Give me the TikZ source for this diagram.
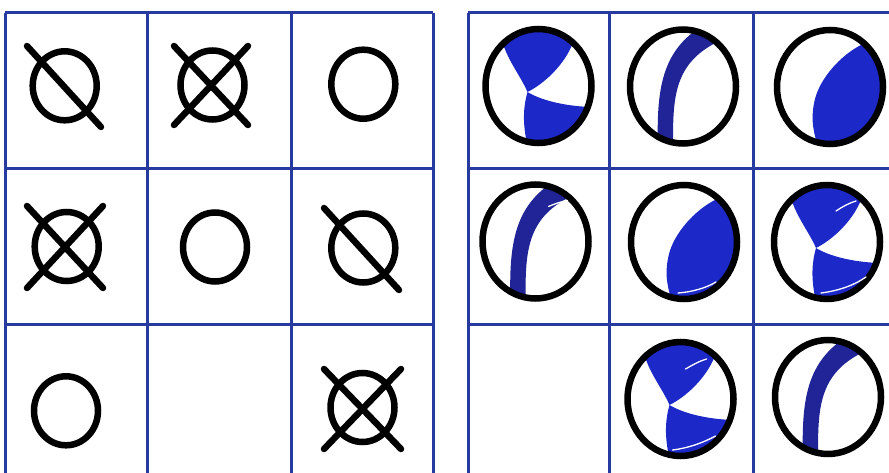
\documentclass[tikz,border=0pt]{standalone}
\definecolor{gridblue}{RGB}{38,58,160}
\definecolor{ballblue}{RGB}{28,40,200}
\definecolor{bandblue}{RGB}{32,36,150}
\tikzset{
  gridline/.style={draw=gridblue,line width=3pt},
  sym/.style={draw=black,line width=6.5pt,line cap=round},
  ring/.style={draw=black,line width=6.5pt},
  ballrim/.style={draw=black,line width=6.5pt},
  shine/.style={draw=white,line width=1.3pt,line cap=round},
  ballA/.pic={
    \begin{scope}
      \clip (0,0) ellipse [x radius=53pt, y radius=57pt];
      \fill[ballblue] (-45,-52) -- (-34,-38) .. controls (-28,-22) and (-17,-8) .. (-11,6)
        .. controls (5,-2) and (25,-20) .. (34,-42) -- (45,-58) -- (0,-80) -- cycle;
      \fill[ballblue] (-11,6) .. controls (2,14) and (25,20) .. (52,21) -- (75,25) -- (75,80)
        -- (-12,80) -- (-12,55) .. controls (-16,35) and (-15,20) .. (-11,6) -- cycle;
    \end{scope}
    \draw[ballrim] (0,0) ellipse [x radius=53pt, y radius=57pt];
  },
  ballB/.pic={
    \begin{scope}
      \clip (0,0) ellipse [x radius=53pt, y radius=57pt];
      \fill[bandblue] (18,-60) .. controls (-20,-35) and (-27,0) .. (-25,62)
        -- (-25,75) -- (-10,75) -- (-10,62)
        .. controls (-10,10) and (-11,-28) .. (47,-50) -- cycle;
    \end{scope}
    \draw[ballrim] (0,0) ellipse [x radius=53pt, y radius=57pt];
  },
  ballC/.pic={
    \begin{scope}
      \clip (0,0) ellipse [x radius=53pt, y radius=57pt];
      \fill[ballblue] (-13,75) -- (-13,56) .. controls (-18,40) and (-19,28) .. (-15,12)
        .. controls (-10,-8) and (10,-32) .. (33,-43) -- (45,-55) -- (80,-40) -- (80,80) -- cycle;
    \end{scope}
    \draw[ballrim] (0,0) ellipse [x radius=53pt, y radius=57pt];
  }
}
\begin{document}
\begin{tikzpicture}[x=1pt,y=-1pt]
\useasboundingbox (0,0) rectangle (889,473);
\fill[white] (0,0) rectangle (889,473);

% ---------- left grid ----------
\foreach \gx in {5,147,291,433} \draw[gridline] (\gx,13) -- (\gx,480);
\foreach \gy in {13,169,324} \draw[gridline] (5,\gy) -- (433,\gy);

% ---------- right grid ----------
\foreach \gx in {468,609,753} \draw[gridline] (\gx,13) -- (\gx,480);
\foreach \gy in {13,169,324} \draw[gridline] (468,\gy) -- (895,\gy);

% ---------- left symbols ----------
\coordinate (L00) at (64.7,85.8);
\coordinate (L01) at (212.5,85);
\coordinate (L02) at (363.3,84.2);
\coordinate (L10) at (66.7,246.5);
\coordinate (L11) at (215,247);
\coordinate (L12) at (363.3,248);
\coordinate (L20) at (66,410.8);
\coordinate (L22) at (362.5,407.5);

\draw[ring] (L00) ellipse [x radius=32pt, y radius=34.5pt];
\draw[sym] (27,46) -- (101,127);

\draw[ring] (L01) ellipse [x radius=32pt, y radius=34.5pt];
\draw[sym] (174,46) -- (248,125);
\draw[sym] (248,46) -- (174,125);

\draw[ring] (L02) ellipse [x radius=32pt, y radius=34.5pt];

\draw[ring] (L10) ellipse [x radius=32pt, y radius=34.5pt];
\draw[sym] (27,206) -- (103,288);
\draw[sym] (103,206) -- (27,288);

\draw[ring] (L11) ellipse [x radius=32pt, y radius=34.5pt];

\draw[ring] (L12) ellipse [x radius=32pt, y radius=34.5pt];
\draw[sym] (324,208) -- (399,290);

\draw[ring] (L20) ellipse [x radius=32pt, y radius=34.5pt];

\draw[ring] (L22) ellipse [x radius=32pt, y radius=34.5pt];
\draw[sym] (324,369) -- (401,449);
\draw[sym] (401,369) -- (324,449);

% ---------- right beach balls ----------
\pic (R00) at (538.5,86) {ballA};
\pic (R01) at (683,86.5) {ballB};
\pic (R02) at (830,87) {ballC};
\pic (R10) at (535.5,241.5) {ballB};
\pic (R11) at (684,242) {ballC};
\pic (R12) at (827,242) {ballA};
\pic (R21) at (680.5,399) {ballA};
\pic (R22) at (828,397) {ballB};

% highlights
\begin{scope}[shift={(535.5,241.5)}]
  \draw[shine] (13,-35) .. controls (20,-38) and (26,-40) .. (32,-41);
\end{scope}
\begin{scope}[shift={(684,242)}]
  \draw[shine] (-6,51) .. controls (8,50) and (22,46) .. (32,40);
\end{scope}
\begin{scope}[shift={(827,242)}]
  \draw[shine] (9,-31) .. controls (15,-35) and (22,-39) .. (29,-41);
  \draw[shine] (-6,51) .. controls (10,49) and (26,44) .. (39,35);
\end{scope}
\begin{scope}[shift={(680.5,399)}]
  \draw[shine] (5,-30) .. controls (12,-34) and (19,-38) .. (26,-40);
  \draw[shine] (-8,51) .. controls (8,49) and (22,44) .. (35,37);
\end{scope}
\end{tikzpicture}
\end{document}
